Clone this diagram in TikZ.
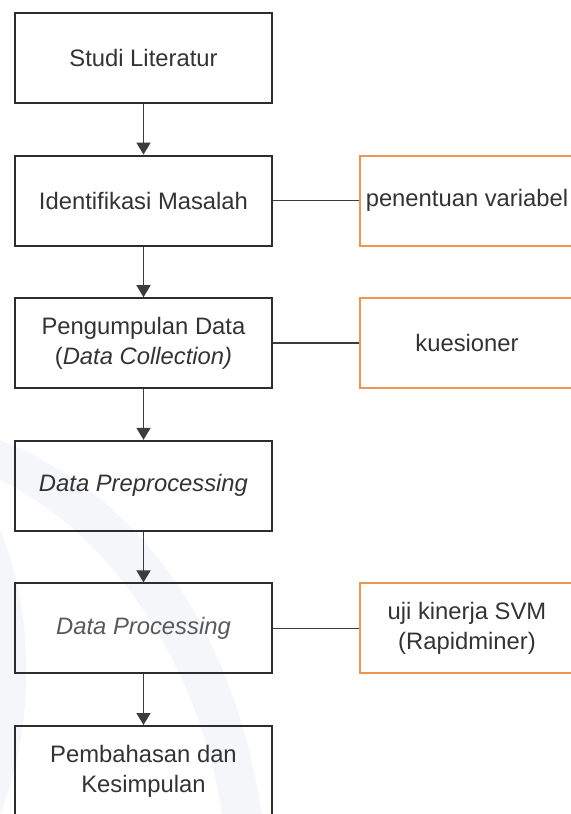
\documentclass[tikz,border=0pt]{standalone}
\usepackage{fontspec}
\setmainfont{Liberation Sans}
\usetikzlibrary{positioning,arrows.meta}
\usepackage{xcolor}

\definecolor{boxline}{RGB}{45,45,45}
\definecolor{arrowline}{RGB}{60,60,60}
\definecolor{noteline}{RGB}{236,150,78}
\definecolor{wmark}{RGB}{244,246,250}

\tikzset{
    stepbox/.style={
        rectangle,
        draw=boxline,
        line width=1pt,
        minimum width=128.5pt,
        minimum height=45pt,
        align=center,
        text=black!80
    },
    notebox/.style={
        rectangle,
        draw=noteline,
        line width=1pt,
        minimum width=107pt,
        minimum height=45pt,
        inner sep=2pt,
        align=center,
        text=black!80
    },
    flow/.style={-{Triangle[width=7pt,length=6pt]}, draw=arrowline, line width=0.8pt},
    link/.style={-, draw=arrowline, line width=0.8pt}
}

\begin{document}
\begin{tikzpicture}[x=0.5pt, y=-0.5pt, node distance=25.3pt and 43pt,
        font=\fontsize{11.9pt}{15pt}\selectfont]
        \useasboundingbox (0,0) rectangle (571,814);
        \clip (0,0) rectangle (571,814);

        % faint logo in the background
        \fill[wmark] (0,440) .. controls (150,500) and (235,640) .. (262,814)
            -- (222,814) .. controls (200,670) and (115,535) .. (0,480) -- cycle;
        \fill[wmark] (0,530) .. controls (35,610) and (35,730) .. (0,814) -- cycle;

        % main steps
        \node (studi) [stepbox] at (143.5,58) {Studi Literatur};
        \node (identifikasi) [stepbox, below=of studi] {Identifikasi Masalah};
        \node (pengumpulan) [stepbox, below=of identifikasi]
            {Pengumpulan Data\\(\textit{Data Collection)}};
        \node (preprocessing) [stepbox, below=of pengumpulan] {\textit{Data Preprocessing}};
        \node (processing) [stepbox, below=of preprocessing, text=black!65] {\textit{Data Processing}};
        \node (pembahasan) [stepbox, below=of processing] {Pembahasan dan\\Kesimpulan};

        % side notes
        \node (variabel) [notebox, right=of identifikasi] {penentuan variabel};
        \node (kuesioner) [notebox, right=of pengumpulan] {kuesioner};
        \node (svm) [notebox, right=of processing] {uji kinerja SVM\\(Rapidminer)};

        \draw[flow] (studi) -- (identifikasi);
        \draw[flow] (identifikasi) -- (pengumpulan);
        \draw[flow] (pengumpulan) -- (preprocessing);
        \draw[flow] (preprocessing) -- (processing);
        \draw[flow] (processing) -- (pembahasan);

        \draw[link] (identifikasi) -- (variabel);
        \draw[link] (pengumpulan) -- (kuesioner);
        \draw[link] (processing) -- (svm);
    \end{tikzpicture}
\end{document}
